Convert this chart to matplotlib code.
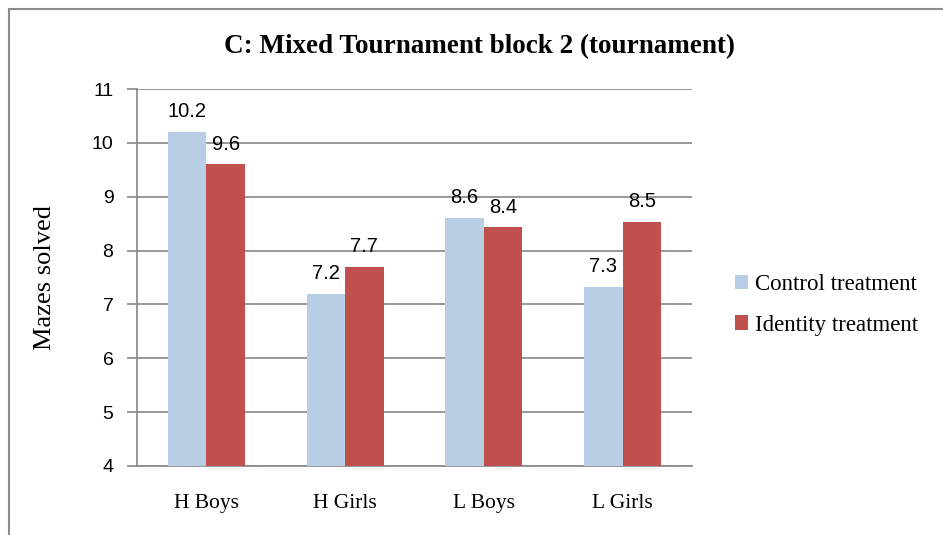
import matplotlib
matplotlib.use("Agg")
import matplotlib.pyplot as plt
import numpy as np
from matplotlib.patches import Rectangle

categories = ["H Boys", "H Girls", "L Boys", "L Girls"]
control = [10.2, 7.2, 8.6, 7.33]
identity = [9.6, 7.7, 8.43, 8.53]
control_labels = ["10.2", "7.2", "8.6", "7.3"]
identity_labels = ["9.6", "7.7", "8.4", "8.5"]
series_names = ["Control treatment", "Identity treatment"]
yticks = [4, 5, 6, 7, 8, 9, 10, 11]

serif = "Liberation Serif"
sans = "Liberation Sans"

fig = plt.figure(figsize=(9.43, 5.35), dpi=100)
ax = fig.add_axes([137/943, 1-466/535, (692-137)/943, (466-89)/535])

x = np.arange(len(categories))
w = 0.277
c1 = "#B9CDE5"
c2 = "#C0504D"
b1 = ax.bar(x - w/2, [v - 4 for v in control], w, bottom=4, color=c1, label=series_names[0], zorder=3)
b2 = ax.bar(x + w/2, [v - 4 for v in identity], w, bottom=4, color=c2, label=series_names[1], zorder=3)

for xi, v, t in zip(x, control, control_labels):
    ax.text(xi - w/2, v + 0.2, t, ha="center", va="bottom", fontsize=14.5, family=sans)
for xi, v, t in zip(x, identity, identity_labels):
    ax.text(xi + w/2, v + 0.2, t, ha="center", va="bottom", fontsize=14.5, family=sans)

ax.set_xlim(-0.5, len(categories) - 0.5)
ax.set_ylim(4, 11)
ax.set_yticks(yticks)
ax.set_yticklabels([str(t) for t in yticks], family=sans, fontsize=14)
ax.set_xticks(x)
ax.set_xticklabels(categories, family=serif, fontsize=15.5)
ax.tick_params(axis="x", length=0, pad=20)
ax.tick_params(axis="y", length=7, color="#868686", width=1.2, pad=10)
ax.grid(axis="y", color="#868686", linewidth=1.2, zorder=0)
for s in ["top", "right"]:
    ax.spines[s].set_visible(False)
ax.spines["left"].set_color("#868686")
ax.spines["bottom"].set_color("#868686")
ax.spines["left"].set_linewidth(1.2)
ax.spines["bottom"].set_linewidth(1.2)

ax.set_ylabel("Mazes solved", family=serif, fontsize=19, labelpad=26)
fig.text(480/943, 1-47/535, "C: Mixed Tournament block 2 (tournament)", ha="center", va="center",
         family=serif, fontsize=19.5, fontweight="bold")

leg = fig.legend(handles=[b1, b2], labels=series_names, loc="center left",
                 bbox_to_anchor=(714/943, 1-305/535), frameon=False,
                 prop={"family": serif, "size": 16.5}, handlelength=0.6, handleheight=0.6,
                 handletextpad=0.3, labelspacing=0.85)

fig.patches.append(Rectangle((9/943, -0.05), 1.0, 1 - 9/535 + 0.05, transform=fig.transFigure,
                             fill=False, edgecolor="#8c8c8c", linewidth=1.5))

fig.savefig("out.png", dpi=100)
